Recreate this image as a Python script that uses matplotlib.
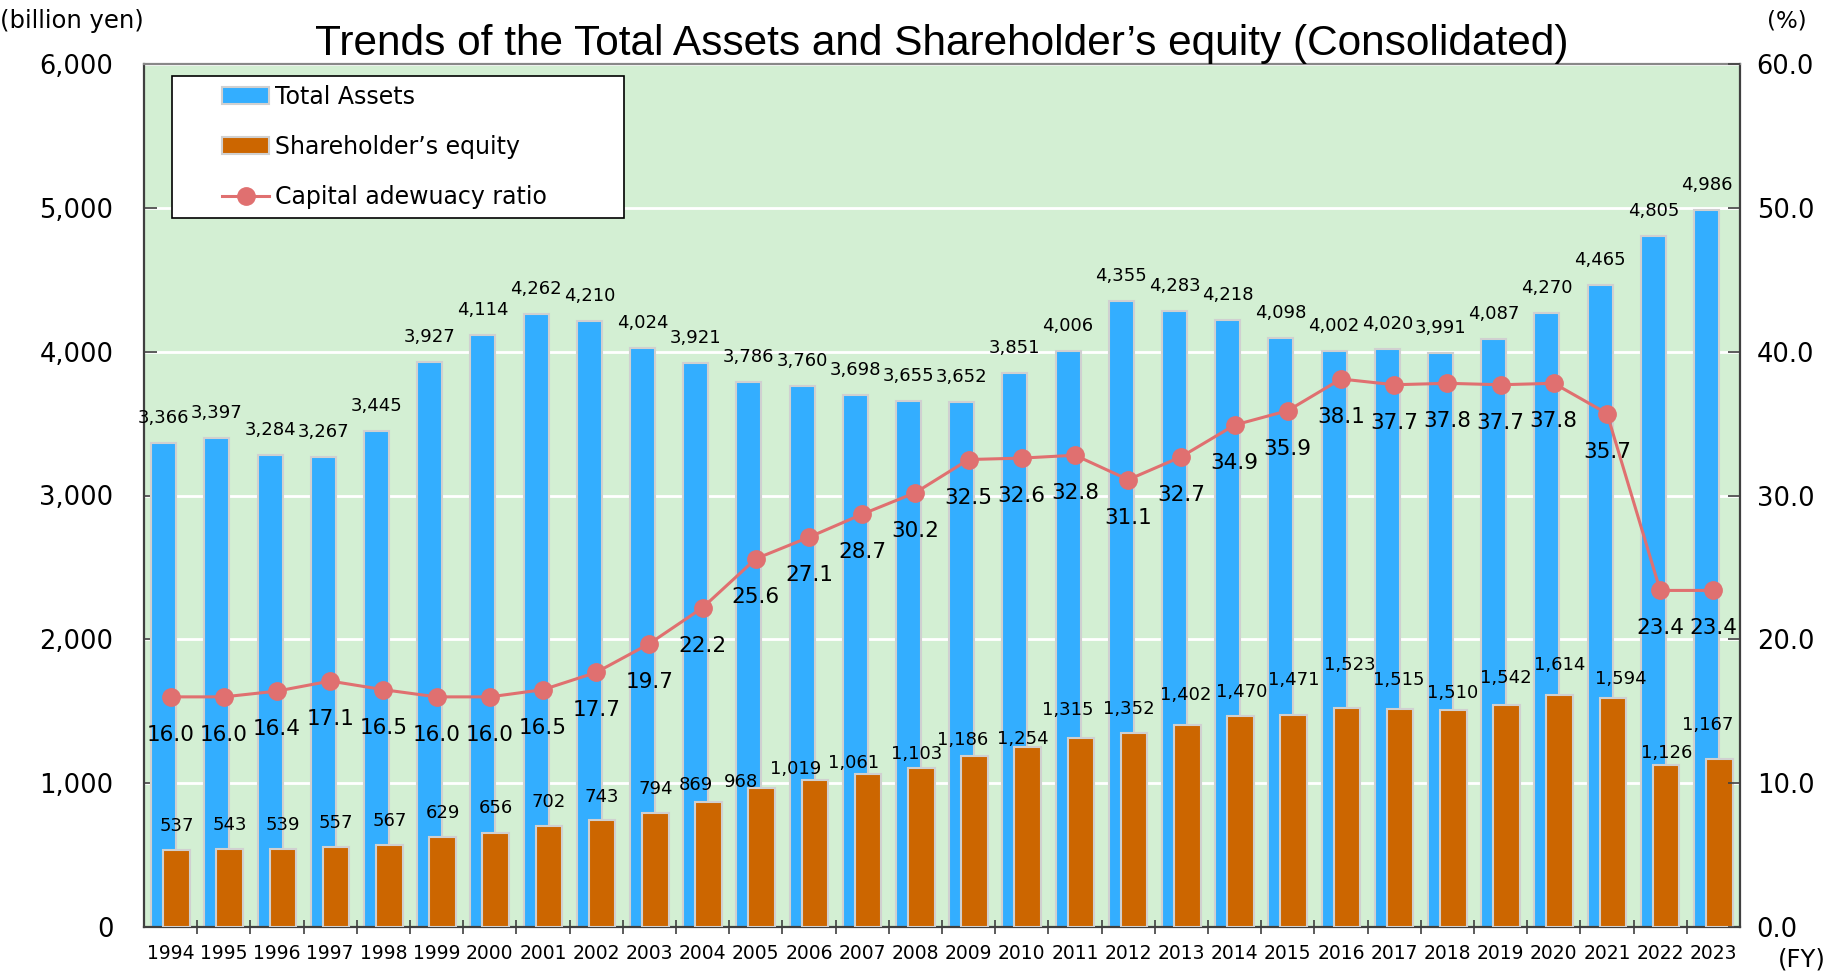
import matplotlib

matplotlib.use("Agg")
import matplotlib.pyplot as plt
from matplotlib.lines import Line2D
from matplotlib.patches import Patch, Rectangle
from matplotlib.ticker import FuncFormatter, FixedLocator

OUTPUT_PATH = "out.png"

years = list(range(1994, 2024))
total_assets = [3366, 3397, 3284, 3267, 3445, 3927, 4114, 4262, 4210, 4024,
                3921, 3786, 3760, 3698, 3655, 3652, 3851, 4006, 4355, 4283,
                4218, 4098, 4002, 4020, 3991, 4087, 4270, 4465, 4805, 4986]
equity = [537, 543, 539, 557, 567, 629, 656, 702, 743, 794,
          869, 968, 1019, 1061, 1103, 1186, 1254, 1315, 1352, 1402,
          1470, 1471, 1523, 1515, 1510, 1542, 1614, 1594, 1126, 1167]
capital_ratio = [16.0, 16.0, 16.4, 17.1, 16.5, 16.0, 16.0, 16.5, 17.7, 19.7,
                 22.2, 25.6, 27.1, 28.7, 30.2, 32.5, 32.6, 32.8, 31.1, 32.7,
                 34.9, 35.9, 38.1, 37.7, 37.8, 37.7, 37.8, 35.7, 23.4, 23.4]

# hand-placed equity labels (pixel offsets from the bar top) so they don't collide
equity_label_dx = [0, 0, 0, 0, 0, 0, 0, 0, 0, 0,
                   -13, -21, -19, -14, -5, -12, -5, -13, -5, -2,
                   1, 0, 3, -1, -1, -1, 0, 8, 1, -12]
equity_label_dy = [19, 19, 19, 19, 19, 19, 20, 19, 18, 19,
                   12, 1, 6, 6, 9, 11, 3, 23, 19, 25,
                   19, 30, 38, 24, 12, 22, 25, 14, 7, 29]

BLUE = "#33aeff"
ORANGE = "#cc6600"
RED = "#e07070"
BG = "#d3efd3"
EDGE = "#d0d0d0"
SPINE = "#404040"

plt.rcParams["font.family"] = ["DejaVu Sans"]

fig = plt.figure(figsize=(18.35, 9.73), dpi=100)
ax = fig.add_axes([144 / 1835, 46 / 973, 1596 / 1835, 863 / 973])
ax.set_facecolor(BG)

x = list(range(len(years)))
blue_x = [i - 0.13 for i in x]
orange_x = [i + 0.11 for i in x]

ax.bar(blue_x, total_assets, width=0.47, color=BLUE, edgecolor=EDGE,
       linewidth=1.5, zorder=2)
ax.bar(orange_x, equity, width=0.5, color=ORANGE, edgecolor=EDGE,
       linewidth=1.5, zorder=3)

for xi, v in zip(blue_x, total_assets):
    ax.annotate(f"{v:,}", (xi, v), xytext=(0, 20), textcoords="offset pixels",
                ha="center", va="baseline", fontsize=13, zorder=5)
for xi, v, dx, dy in zip(orange_x, equity, equity_label_dx, equity_label_dy):
    ax.annotate(f"{v:,}", (xi, v), xytext=(dx, dy), textcoords="offset pixels",
                ha="center", va="baseline", fontsize=13, zorder=5)

ax.set_xlim(-0.5, len(years) - 0.5)
ax.set_ylim(0, 6000)
ax.set_yticks(range(0, 6001, 1000))
ax.yaxis.set_major_formatter(FuncFormatter(lambda v, _: f"{v:,.0f}"))
ax.grid(axis="y", color="white", linewidth=2, zorder=1)
ax.set_axisbelow(True)

ax.set_xticks(x)
ax.set_xticklabels([str(y) for y in years], fontsize=13.5)
ax.tick_params(axis="x", length=0, pad=12)
ax.xaxis.set_minor_locator(FixedLocator([i + 0.5 for i in x[:-1]]))
ax.tick_params(axis="x", which="minor", direction="inout", length=10,
               width=1.2, color=SPINE)
ax.tick_params(axis="y", direction="in", length=9, width=1.2, color=SPINE,
               labelsize=18.5, pad=22)

for side in ("left", "right", "top", "bottom"):
    ax.spines[side].set_color(SPINE)
    ax.spines[side].set_linewidth(1.6)
ax.spines["top"].set_color("#888888")

# capital adequacy ratio on the right axis
ax2 = ax.twinx()
ax2.plot(x, capital_ratio, color=RED, linewidth=2.2, marker="o",
         markersize=12.5, zorder=4)
for xi, v in zip(x, capital_ratio):
    ax2.annotate(f"{v:.1f}", (xi, v), xytext=(0, -38), textcoords="offset pixels",
                 ha="center", va="center", fontsize=15.5)
ax2.set_ylim(0, 60)
ax2.set_yticks(range(0, 61, 10))
ax2.yaxis.set_major_formatter(FuncFormatter(lambda v, _: f"{v:.1f}"))
ax2.tick_params(axis="y", direction="in", length=9, width=1.2, color=SPINE,
                labelsize=18.5, pad=12)
for side in ("left", "right", "top", "bottom"):
    ax2.spines[side].set_visible(False)

ax.set_title("Trends of the Total Assets and Shareholder\u2019s equity (Consolidated)",
             fontsize=30.5, family=["Liberation Sans", "DejaVu Sans"], pad=0)

fig.text(0.0, 1 - 21 / 973, "(billion yen)", fontsize=17.5, ha="left", va="center")
fig.text(1767 / 1835, 1 - 21 / 973, "(%)", fontsize=16.5, ha="left", va="center")
fig.text(1778 / 1835, 2 / 973, "(FY)", fontsize=17.5, ha="left", va="bottom")

# legend box
fig.patches.append(Rectangle((172 / 1835, 1 - 218 / 973), 452 / 1835, 142 / 973,
                             transform=fig.transFigure, facecolor="white",
                             edgecolor="black", linewidth=1.2, zorder=6))
handles = [
    Patch(facecolor=BLUE, edgecolor=EDGE, linewidth=1.5),
    Patch(facecolor=ORANGE, edgecolor=EDGE, linewidth=1.5),
    Line2D([], [], color=RED, linewidth=2.2, marker="o", markersize=12.5),
]
labels = ["Total Assets", "Shareholder\u2019s equity", "Capital adewuacy ratio"]
leg = fig.legend(handles, labels, loc="center left",
                 bbox_to_anchor=(222 / 1835, 1 - 147 / 973), frameon=False,
                 fontsize=17, borderpad=0, borderaxespad=0, handlelength=2.0,
                 handletextpad=0.25, labelspacing=1.1)
leg.set_zorder(7)

fig.savefig(OUTPUT_PATH, dpi=100)
